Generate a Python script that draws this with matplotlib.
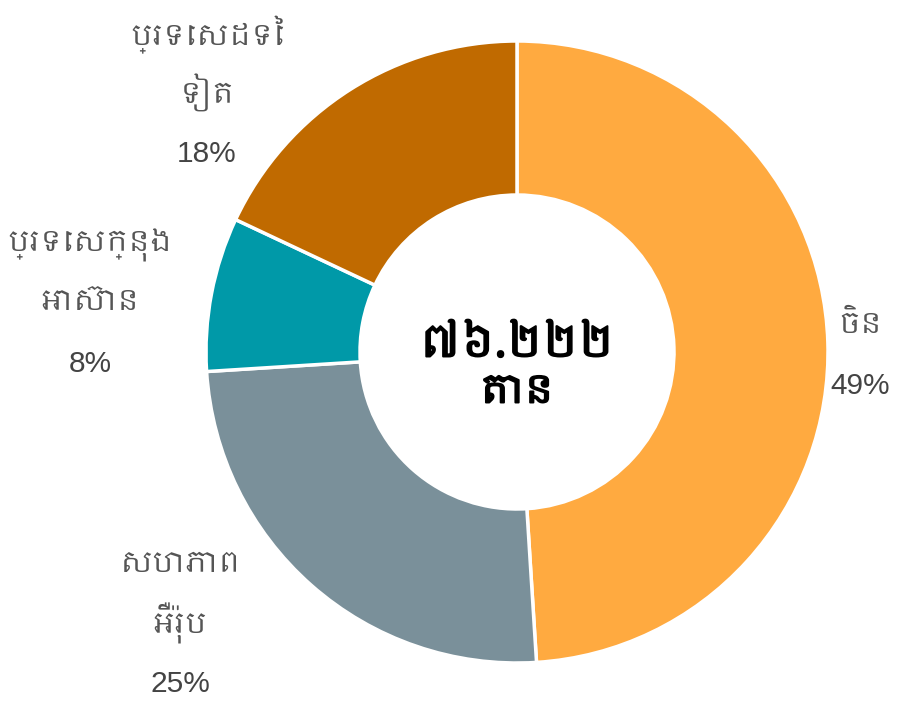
import matplotlib
matplotlib.use("Agg")
import matplotlib.pyplot as plt
import matplotlib.patheffects as pe
from matplotlib import font_manager

# ទិន្នន័យ
categories = ["ចិន", "សហភាព\nអឺរ៉ុប", "ប្រទេសក្នុង\nអាស៊ាន", "ប្រទេសដទៃ\nទៀត"]
shares = [49, 25, 8, 18]
total_label = "៧៦.២២២\nតោន"

colors = ["#FFAA40", "#7A909A", "#0099A8", "#C06A00"]

# look for any font that can draw Khmer, fall back to DejaVu
khmer = sorted(set(f.name for f in font_manager.fontManager.ttflist
                   if "khmer" in f.name.lower()))
plt.rcParams["font.family"] = khmer + ["DejaVu Sans"]
num_family = ["Liberation Sans", "DejaVu Sans"]

fig = plt.figure(figsize=(8.99, 7.09), dpi=100)
ax = fig.add_axes([0, 0, 1, 1])

cx, cy = 517, 709 - 352
r_out, r_in = 311, 157

ax.pie(shares, colors=colors, startangle=90, counterclock=False,
       radius=r_out, center=(cx, cy), frame=True,
       wedgeprops=dict(width=r_out - r_in, edgecolor="white", linewidth=2.5))
ax.set_xlim(0, 899)
ax.set_ylim(0, 709)
ax.set_aspect("equal")
ax.axis("off")

# label anchors (pixel layout, top-left origin): name block then percentage
label_pos = [(860, 325), (180, 565), (90, 245), (207, 35)]
line_gap = 58

for name, val, (lx, ly) in zip(categories, shares, label_pos):
    lines = name.split("\n")
    for i, t in enumerate(lines):
        ax.text(lx, 709 - (ly + i * line_gap), t, ha="center", va="center",
                fontsize=21, color="#555555")
    ax.text(lx, 709 - (ly + len(lines) * line_gap + 3), f"{val}%", ha="center",
            va="center", fontsize=21.5, color="#444444", family=num_family)

# the Khmer font has no bold face, thicken the strokes instead
bold = [pe.withStroke(linewidth=1.4, foreground="black")]
t1, t2 = total_label.split("\n")
ax.text(cx, 709 - 345, t1, ha="center", va="center", fontsize=32,
        color="black", path_effects=bold)
ax.text(cx, 709 - 392, t2, ha="center", va="center", fontsize=28,
        color="black", path_effects=bold)

fig.savefig("out.png", dpi=100)
